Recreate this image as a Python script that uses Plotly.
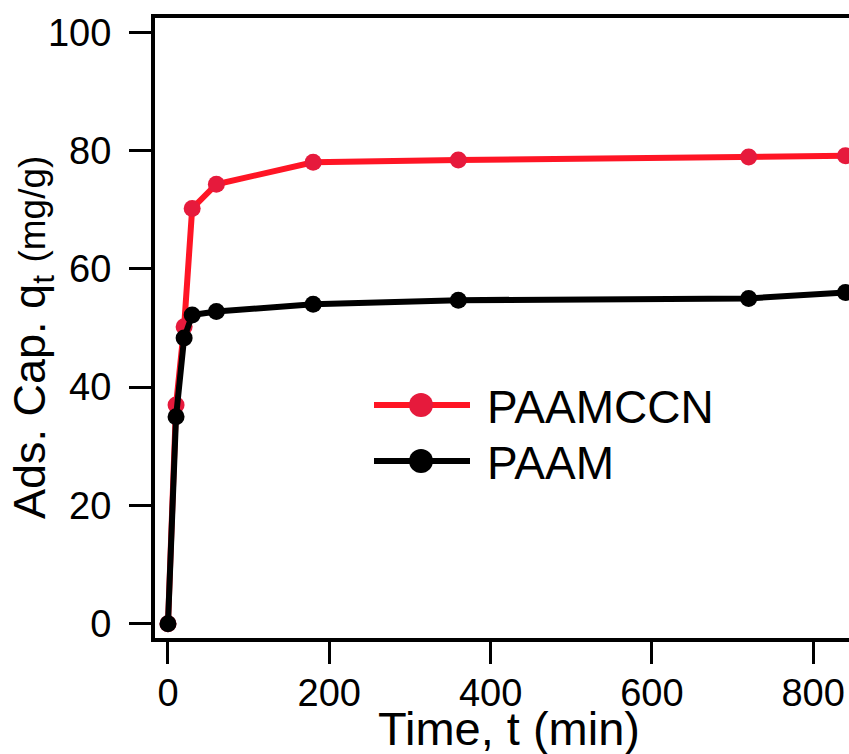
import plotly.graph_objects as go

# ---- data ----
time_min = [0, 10, 20, 30, 60, 180, 360, 720, 840]
paamccn = [0, 37.0, 50.2, 70.2, 74.3, 78.0, 78.4, 78.9, 79.1]
paam = [0, 35.0, 48.3, 52.2, 52.8, 54.0, 54.7, 55.0, 56.0]
series_names = ["PAAMCCN", "PAAM"]
x_ticks = [0, 200, 400, 600, 800]
y_ticks = [0, 20, 40, 60, 80, 100]

RED_LINE = "#FF1525"
RED_MARK = "#E61A3C"
BLACK = "#000000"
FONT = "Liberation Sans, Arial, sans-serif"

W, H = 849, 754
L, R, T, B = 155, 0, 18, 116
PW, PH = W - L - R, H - T - B


def px_x(p):
    return (p - L) / PW


def px_y(p):
    return (H - B - p) / PH


fig = go.Figure()
fig.add_trace(go.Scatter(
    x=time_min, y=paamccn, mode="lines+markers", name=series_names[0],
    line=dict(color=RED_LINE, width=6),
    marker=dict(color=RED_MARK, size=17, line=dict(width=0)),
    showlegend=False,
))
fig.add_trace(go.Scatter(
    x=time_min, y=paam, mode="lines+markers", name=series_names[1],
    line=dict(color=BLACK, width=6),
    marker=dict(color=BLACK, size=17, line=dict(width=0)),
    showlegend=False,
))

fig.update_layout(
    width=W, height=H,
    margin=dict(l=L, r=R, t=T, b=B, pad=0),
    paper_bgcolor="white", plot_bgcolor="white",
    font=dict(family=FONT, color="black"),
)
fig.update_xaxes(
    range=[-16.1, 844.4], tickvals=x_ticks, ticktext=[str(v) for v in x_ticks],
    showgrid=False, zeroline=False,
    showline=True, linecolor="black", linewidth=4, mirror=True,
    ticks="outside", ticklen=22, tickwidth=3, tickcolor="black",
    tickfont=dict(size=38, family=FONT, color="black"),
    ticklabelstandoff=-4,
)
fig.update_yaxes(
    range=[-2.4, 102.4], tickvals=y_ticks, ticktext=[str(v) for v in y_ticks],
    showgrid=False, zeroline=False,
    showline=True, linecolor="black", linewidth=4, mirror=False,
    ticks="outside", ticklen=22, tickwidth=3, tickcolor="black",
    tickfont=dict(size=38, family=FONT, color="black"),
    ticklabelstandoff=10,
)

# axis titles
fig.add_annotation(
    text="Time, t (min)", xref="paper", yref="paper",
    x=px_x(509), y=px_y(728), xanchor="center", yanchor="middle",
    showarrow=False, font=dict(size=47, family=FONT, color="black"),
)
fig.add_annotation(
    text="Ads. Cap. q<sub>t</sub> <span style='font-size:37px'>(mg/g)</span>",
    xref="paper", yref="paper", textangle=-90,
    x=px_x(32), y=px_y(338), xanchor="center", yanchor="middle",
    showarrow=False, font=dict(size=45, family=FONT, color="black"),
)

# legend (drawn manually to match long sample lines)
legend_rows = [
    (series_names[0], RED_LINE, RED_MARK, 405),
    (series_names[1], BLACK, BLACK, 461),
]
for name, lc, mc, ypx in legend_rows:
    fig.add_shape(type="line", xref="paper", yref="paper",
                  x0=px_x(374), x1=px_x(470), y0=px_y(ypx), y1=px_y(ypx),
                  line=dict(color=lc, width=6))
    r = 12
    fig.add_shape(type="circle", xref="paper", yref="paper",
                  x0=px_x(421 - r), x1=px_x(421 + r),
                  y0=px_y(ypx + r), y1=px_y(ypx - r),
                  fillcolor=mc, line=dict(width=0))
    fig.add_annotation(text=name, xref="paper", yref="paper",
                       x=px_x(485), y=px_y(ypx + 2), xanchor="left", yanchor="middle",
                       showarrow=False, font=dict(size=46, family=FONT, color="black"))

fig.write_html("out.html")
